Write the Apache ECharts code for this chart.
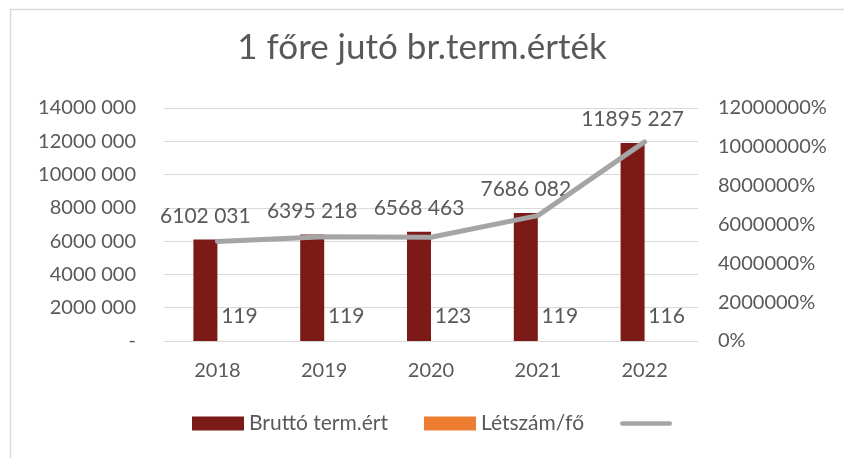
<!DOCTYPE html>
<html>
<head>
<meta charset="utf-8">
<script src="https://cdn.jsdelivr.net/npm/echarts@6/dist/echarts.min.js"></script>
<style>html,body{margin:0;padding:0;background:#fff;}#c{width:844px;height:458px;}</style>
</head>
<body>
<div id="c"></div>
<script>
const categories = ['2018', '2019', '2020', '2021', '2022'];
const brutto = [6102031, 6395218, 6568463, 7686082, 11895227];
const letszam = [119, 119, 123, 119, 116];
const perFo = [51277, 53741, 53402, 64589, 102545];
const titleText = '1 főre jutó br.term.érték';
const seriesNames = ['Bruttó term.ért', 'Létszám/fő', ' '];

const FONT = 'Lato';
const TXT = '#595959';

function fmtThousands(v) {
  if (v === 0) return '-';
  v = Math.round(v);
  if (v < 1000) return String(v);
  const hi = Math.floor(v / 1000);
  const lo = String(v % 1000).padStart(3, '0');
  return hi + ' ' + lo;
}

const chart = echarts.init(document.getElementById('c'), null, {renderer: 'canvas'});
chart.setOption({
  backgroundColor: '#ffffff',
  animation: false,
  graphic: [{
    type: 'rect',
    shape: {x: 10.5, y: 9.5, width: 900, height: 600},
    style: {fill: 'none', stroke: '#d9d9d9', lineWidth: 1.5},
    silent: true, z: -10
  }],
  title: {
    text: titleText,
    left: 'center',
    top: 30,
    padding: 0,
    textStyle: {fontFamily: FONT, fontSize: 35, fontWeight: 'normal', color: TXT}
  },
  legend: {
    left: 192,
    top: 413,
    padding: 0,
    itemWidth: 52,
    itemHeight: 14,
    itemGap: 36,
    textStyle: {fontFamily: FONT, fontSize: 21, color: TXT},
    data: [
      {name: seriesNames[0], icon: 'rect'},
      {name: seriesNames[1], icon: 'rect'},
      {name: seriesNames[2], icon: 'path://M2.5,0 H53.5 A2.5,2.5 0 0 1 53.5,5 H2.5 A2.5,2.5 0 0 1 2.5,0 Z'}
    ]
  },
  grid: {left: 164, right: 146, top: 108, bottom: 117},
  xAxis: {
    type: 'category',
    data: categories,
    axisLine: {lineStyle: {color: '#d9d9d9', width: 1}},
    axisTick: {show: false},
    axisLabel: {fontFamily: FONT, fontSize: 20, color: TXT, margin: 20}
  },
  yAxis: [{
    type: 'value',
    min: 0, max: 14000000, interval: 2000000,
    axisLine: {show: false},
    axisTick: {show: false},
    splitLine: {lineStyle: {color: '#d9d9d9', width: 1}},
    axisLabel: {fontFamily: FONT, fontSize: 20, color: TXT, margin: 28, formatter: fmtThousands}
  }, {
    type: 'value',
    min: 0, max: 120000, interval: 20000,
    axisLine: {show: false},
    axisTick: {show: false},
    splitLine: {show: false},
    axisLabel: {fontFamily: FONT, fontSize: 20, color: TXT, margin: 20,
      formatter: v => (v * 100) + '%'}
  }],
  series: [{
    name: seriesNames[0],
    type: 'bar',
    data: brutto,
    barWidth: 24,
    barGap: '0%',
    itemStyle: {color: '#7B1A16'},
    label: {show: true, position: 'top', distance: 13, fontFamily: FONT, fontSize: 21, color: TXT,
      formatter: p => fmtThousands(p.value)}
  }, {
    name: seriesNames[1],
    type: 'bar',
    data: letszam,
    barWidth: 24,
    barGap: '0%',
    itemStyle: {color: '#ED7D31'},
    label: {show: true, position: 'top', distance: 14, offset: [10, 0], fontFamily: FONT, fontSize: 21, color: TXT}
  }, {
    name: seriesNames[2],
    type: 'line',
    yAxisIndex: 1,
    data: perFo,
    symbol: 'none',
    lineStyle: {color: '#A5A5A5', width: 5, cap: 'round', join: 'round'},
    itemStyle: {color: '#A5A5A5'},
    z: 3
  }]
});
</script>
</body>
</html>
